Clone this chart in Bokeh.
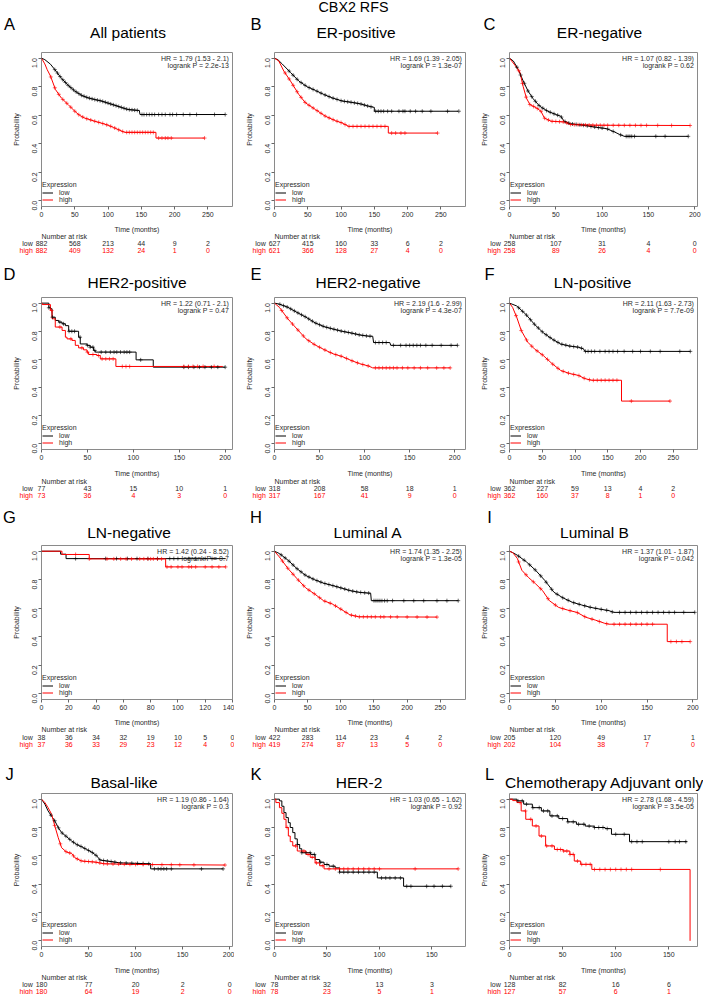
import math
import numpy as np
from bokeh.plotting import figure
from bokeh.models import Range1d, FixedTicker, Legend, LegendItem
from bokeh.core.properties import value
from bokeh.layouts import column, row
from bokeh.embed import file_html
from bokeh.resources import INLINE

FONT = "Liberation Sans"
SMALL = "7px"
RED = "#FF0000"
TXT = "#2a2a2a"

SUPER_TITLE = "CBX2 RFS"
Y_TICKS = [0.0, 0.2, 0.4, 0.6, 0.8, 1.0]
Y_TICK_LABELS = ["0.0", "0.2", "0.4", "0.6", "0.8", "1.0"]

# ---------------- data ----------------
A_TITLE = "All patients"
A_HR = "HR = 1.79 (1.53 - 2.1)"
A_P = "logrank P = 2.2e-13"
A_XMAX = 287
A_TICKS = [0, 50, 100, 150, 200, 250]
A_RISK_LOW = [882, 568, 213, 44, 9, 2]
A_RISK_HIGH = [882, 409, 132, 24, 1, 0]
A_LOW_T = [0, 5, 13.5, 20, 30, 40, 50, 60, 70, 80, 90, 100, 110, 120, 130, 147, 148, 276]
A_LOW_S = [1.0, 0.99, 0.958, 0.92, 0.859, 0.81, 0.77, 0.74, 0.722, 0.71, 0.70, 0.685, 0.67, 0.655, 0.64, 0.633, 0.605, 0.605]
A_HIGH_T = [0, 5, 8.5, 13.5, 21, 30, 40, 50, 57, 65, 80, 90, 100, 108, 115, 125, 172, 172, 245]
A_HIGH_S = [1.0, 0.96, 0.92, 0.875, 0.78, 0.72, 0.675, 0.628, 0.60, 0.58, 0.558, 0.545, 0.53, 0.515, 0.50, 0.48, 0.48, 0.44, 0.44]
A_LOW_CENS = [20, 24, 28, 32, 36, 40, 44, 48, 52, 56, 60, 64, 68, 72, 76, 80, 84, 88, 92, 96, 100, 104, 108, 112, 116, 120, 124, 128, 132, 136, 140, 144, 151, 154, 158, 162, 166, 170, 176, 181, 186, 193, 197, 203, 213, 223, 233, 260, 276]
A_HIGH_CENS = [14, 20, 26, 32, 38, 44, 50, 56, 62, 68, 74, 80, 86, 92, 98, 104, 110, 116, 122, 128, 132, 136, 140, 144, 148, 152, 156, 160, 164, 168, 176, 181, 186, 190, 195, 245]

B_TITLE = "ER-positive"
B_HR = "HR = 1.69 (1.39 - 2.05)"
B_P = "logrank P = 1.3e-07"
B_XMAX = 287
B_TICKS = [0, 50, 100, 150, 200, 250]
B_RISK_LOW = [627, 415, 160, 33, 6, 2]
B_RISK_HIGH = [621, 366, 128, 27, 4, 0]
B_LOW_T = [0, 5, 11.5, 24, 36.5, 49, 61.5, 74, 86.5, 101.5, 116.5, 129, 141.5, 150, 150, 276]
B_LOW_S = [1.0, 0.99, 0.96, 0.90, 0.84, 0.80, 0.774, 0.746, 0.722, 0.70, 0.69, 0.68, 0.663, 0.655, 0.628, 0.628]
B_HIGH_T = [0, 6.5, 14, 24, 36.5, 46.5, 61.5, 76.5, 91.5, 101.5, 111.5, 171, 171, 245]
B_HIGH_S = [1.0, 0.98, 0.91, 0.84, 0.746, 0.687, 0.64, 0.593, 0.562, 0.546, 0.522, 0.522, 0.475, 0.475]
B_LOW_CENS = [22, 28, 34, 40, 46, 52, 58, 64, 70, 76, 82, 88, 94, 100, 105, 110, 115, 120, 125, 130, 135, 140, 145, 152, 156, 160, 164, 170, 176, 187, 193, 196, 204, 212, 222, 235, 260, 277]
B_HIGH_CENS = [16, 22, 28, 34, 40, 46, 52, 58, 64, 70, 76, 82, 88, 94, 100, 106, 112, 118, 124, 130, 136, 142, 148, 154, 160, 166, 176, 182, 190, 196, 245]

C_TITLE = "ER-negative"
C_HR = "HR = 1.07 (0.82 - 1.39)"
C_P = "logrank P = 0.62"
C_XMAX = 203
C_TICKS = [0, 50, 100, 150, 200]
C_RISK_LOW = [258, 107, 31, 4, 0]
C_RISK_HIGH = [258, 89, 26, 4, 0]
C_LOW_T = [0, 4.2, 9.5, 14.8, 20, 25.4, 32.5, 41.3, 50, 55.4, 59, 66, 80, 94, 105, 113.6, 119, 124, 193]
C_LOW_S = [1.0, 0.98, 0.92, 0.84, 0.77, 0.717, 0.664, 0.628, 0.605, 0.593, 0.558, 0.54, 0.53, 0.515, 0.506, 0.482, 0.465, 0.452, 0.452]
C_HIGH_T = [0, 6, 11.3, 14.8, 18.3, 22, 29, 34, 37.7, 44.8, 59, 66, 94, 195]
C_HIGH_S = [1.0, 0.95, 0.90, 0.80, 0.72, 0.675, 0.652, 0.628, 0.58, 0.558, 0.553, 0.535, 0.53, 0.528]
C_LOW_CENS = [8, 12, 16, 20, 24, 28, 32, 36, 40, 44, 48, 52, 56, 60, 64, 68, 72, 76, 80, 84, 88, 92, 96, 100, 106, 112, 120, 126, 128, 130, 132, 135, 158, 168, 193]
C_HIGH_CENS = [10, 14, 18, 22, 26, 30, 34, 38, 42, 46, 50, 54, 58, 62, 66, 70, 74, 78, 82, 86, 90, 94, 98, 102, 106, 112, 118, 124, 130, 136, 142, 148, 160, 175, 195]

D_TITLE = "HER2-positive"
D_HR = "HR = 1.22 (0.71 - 2.1)"
D_P = "logrank P = 0.47"
D_XMAX = 208
D_TICKS = [0, 50, 100, 150, 200]
D_RISK_LOW = [77, 43, 15, 10, 1]
D_RISK_HIGH = [73, 36, 4, 3, 0]
D_LOW_T = [0, 8, 9.7, 11.5, 15, 18.8, 22.4, 26, 29.6, 40.4, 42.2, 49.5, 53, 56.7, 58.5, 103, 121.7, 200]
D_LOW_S = [1.0, 0.967, 0.96, 0.90, 0.877, 0.865, 0.853, 0.84, 0.80, 0.758, 0.71, 0.70, 0.687, 0.664, 0.652, 0.597, 0.545, 0.545]
D_HIGH_T = [0, 0.7, 9.7, 11.5, 15, 22.4, 26, 27.8, 33.2, 36.8, 40.4, 45.8, 49.5, 51.3, 60.3, 64, 81, 197.5]
D_HIGH_S = [1.0, 0.99, 0.948, 0.889, 0.83, 0.806, 0.758, 0.746, 0.735, 0.70, 0.682, 0.668, 0.652, 0.635, 0.628, 0.604, 0.55, 0.55]
D_LOW_CENS = [8, 12, 20, 24, 30, 33, 36, 42, 50, 53, 56, 58, 65, 70, 75, 79, 82, 86, 90, 93, 96, 108, 155, 160, 166, 172, 178, 185, 192, 200]
D_HIGH_CENS = [11, 20, 32, 44, 50, 56, 62, 66, 70, 74, 78, 88, 92, 96, 155, 160, 165, 170, 176, 188]

E_TITLE = "HER2-negative"
E_HR = "HR = 2.19 (1.6 - 2.99)"
E_P = "logrank P = 4.3e-07"
E_XMAX = 212
E_TICKS = [0, 50, 100, 150, 200]
E_RISK_LOW = [318, 208, 58, 18, 1]
E_RISK_HIGH = [317, 167, 41, 9, 0]
E_LOW_T = [0, 5.4, 15, 25, 35, 45, 55, 65, 75, 85, 94.5, 104.5, 109, 110, 128, 129, 203]
E_LOW_S = [1.0, 0.993, 0.97, 0.934, 0.90, 0.86, 0.833, 0.816, 0.80, 0.788, 0.774, 0.765, 0.765, 0.72, 0.72, 0.70, 0.70]
E_HIGH_T = [0, 5.4, 15, 25, 35, 45, 55, 65, 75, 85, 94.5, 104.5, 109, 195]
E_HIGH_S = [1.0, 0.97, 0.887, 0.816, 0.746, 0.703, 0.67, 0.64, 0.621, 0.593, 0.57, 0.553, 0.54, 0.54]
E_LOW_CENS = [6, 10, 14, 18, 22, 26, 30, 34, 38, 42, 46, 50, 54, 58, 62, 66, 70, 74, 78, 82, 86, 90, 94, 98, 102, 106, 112, 116, 120, 124, 132, 140, 146, 150, 154, 158, 162, 168, 175, 185, 196, 203]
E_HIGH_CENS = [8, 14, 20, 26, 32, 38, 44, 50, 56, 62, 68, 74, 80, 86, 92, 98, 104, 112, 116, 120, 124, 128, 132, 136, 142, 148, 155, 162, 170, 180, 188, 195]

F_TITLE = "LN-positive"
F_HR = "HR = 2.11 (1.63 - 2.73)"
F_P = "logrank P = 7.7e-09"
F_XMAX = 287
F_TICKS = [0, 50, 100, 150, 200, 250]
F_RISK_LOW = [362, 227, 59, 13, 4, 2]
F_RISK_HIGH = [362, 160, 37, 8, 1, 0]
F_LOW_T = [0, 11, 25, 38, 51.5, 65, 78, 91.6, 105, 113, 115, 276]
F_LOW_S = [1.0, 0.98, 0.92, 0.85, 0.79, 0.745, 0.71, 0.695, 0.687, 0.675, 0.657, 0.657]
F_HIGH_T = [0, 4.7, 11, 18, 28, 38, 51.5, 65, 78, 91.6, 105, 115, 125, 171, 171, 245]
F_HIGH_S = [1.0, 0.97, 0.90, 0.805, 0.722, 0.675, 0.628, 0.57, 0.522, 0.50, 0.487, 0.464, 0.452, 0.452, 0.304, 0.304]
F_LOW_CENS = [14, 20, 26, 32, 38, 44, 50, 56, 62, 68, 74, 80, 86, 92, 98, 104, 110, 116, 120, 125, 130, 138, 146, 152, 158, 165, 175, 188, 200, 215, 230, 260, 276]
F_HIGH_CENS = [10, 18, 26, 34, 42, 50, 58, 66, 74, 82, 90, 98, 106, 114, 122, 128, 134, 140, 146, 152, 158, 164, 186, 245]

G_TITLE = "LN-negative"
G_HR = "HR = 1.42 (0.24 - 8.52)"
G_P = "logrank P = 0.7"
G_XMAX = 140
G_TICKS = [0, 20, 40, 60, 80, 100, 120, 140]
G_RISK_LOW = [38, 36, 34, 32, 19, 10, 5, 0]
G_RISK_HIGH = [37, 36, 33, 29, 23, 12, 4, 0]
G_LOW_T = [0, 14, 18, 135]
G_LOW_S = [1.0, 0.979, 0.948, 0.948]
G_HIGH_T = [0, 15, 35, 91, 135]
G_HIGH_S = [1.0, 0.977, 0.946, 0.89, 0.89]
G_LOW_CENS = [25, 47, 55, 63, 70, 78, 85, 94, 97, 100, 108, 113, 120, 125]
G_HIGH_CENS = [25, 35, 48, 53, 58, 62, 66, 72, 75, 78, 80, 82, 85, 88, 92, 95, 100, 103, 108, 110, 113, 120, 125, 130, 135]

H_TITLE = "Luminal A"
H_HR = "HR = 1.74 (1.35 - 2.25)"
H_P = "logrank P = 1.3e-05"
H_XMAX = 288
H_TICKS = [0, 50, 100, 150, 200, 250]
H_RISK_LOW = [422, 283, 114, 23, 4, 2]
H_RISK_HIGH = [419, 274, 87, 13, 5, 0]
H_LOW_T = [0, 7.3, 20.6, 34, 47, 60.5, 74, 87, 100, 113.7, 127, 145, 146, 277]
H_LOW_S = [1.0, 0.984, 0.936, 0.877, 0.83, 0.80, 0.776, 0.76, 0.743, 0.724, 0.712, 0.705, 0.653, 0.653]
H_HIGH_T = [0, 7.3, 20.6, 34, 47, 60.5, 74, 87, 100, 113.7, 127, 245]
H_HIGH_S = [1.0, 0.96, 0.877, 0.807, 0.743, 0.70, 0.653, 0.63, 0.594, 0.554, 0.54, 0.538]
H_LOW_CENS = [10, 16, 22, 28, 34, 40, 46, 52, 58, 64, 70, 76, 82, 88, 94, 100, 106, 112, 118, 124, 130, 136, 142, 150, 153, 156, 159, 162, 166, 170, 178, 195, 210, 225, 245, 260, 277]
H_HIGH_CENS = [12, 20, 28, 36, 44, 52, 60, 68, 76, 84, 92, 100, 108, 116, 122, 128, 134, 140, 146, 152, 160, 165, 175, 185, 200, 215, 230, 245]

I_TITLE = "Luminal B"
I_HR = "HR = 1.37 (1.01 - 1.87)"
I_P = "logrank P = 0.042"
I_XMAX = 205
I_TICKS = [0, 50, 100, 150, 200]
I_RISK_LOW = [205, 120, 49, 17, 1]
I_RISK_HIGH = [202, 104, 38, 7, 0]
I_LOW_T = [0, 3.5, 8.5, 18.5, 28.5, 38.5, 48.5, 58.5, 68.5, 78.5, 88.5, 98.5, 108.5, 113.5, 202]
I_LOW_S = [1.0, 0.99, 0.972, 0.925, 0.866, 0.795, 0.712, 0.672, 0.642, 0.623, 0.606, 0.594, 0.583, 0.571, 0.571]
I_HIGH_T = [0, 3.5, 8.5, 13.5, 21, 28.5, 36, 43.5, 53.5, 63.5, 73.5, 83.5, 93.5, 103.5, 108.5, 172, 172, 197]
I_HIGH_S = [1.0, 0.99, 0.95, 0.866, 0.814, 0.771, 0.724, 0.653, 0.606, 0.587, 0.571, 0.536, 0.517, 0.495, 0.488, 0.488, 0.366, 0.366]
I_LOW_CENS = [10, 16, 22, 28, 34, 40, 46, 52, 58, 64, 70, 76, 82, 88, 94, 100, 106, 112, 120, 126, 132, 138, 144, 150, 156, 162, 168, 174, 180, 190, 202]
I_HIGH_CENS = [10, 18, 26, 34, 42, 50, 58, 66, 74, 82, 90, 98, 106, 114, 120, 126, 132, 138, 144, 150, 156, 176, 182, 188, 197]

J_TITLE = "Basal-like"
J_HR = "HR = 1.19 (0.86 - 1.64)"
J_P = "logrank P = 0.3"
J_XMAX = 203
J_TICKS = [0, 50, 100, 150, 200]
J_RISK_LOW = [180, 77, 20, 2, 0]
J_RISK_HIGH = [180, 64, 19, 2, 0]
J_LOW_T = [0, 3.6, 7, 10.7, 14.2, 17.8, 21.4, 26.7, 32, 37.4, 42.7, 48, 53.4, 58.7, 62.3, 70, 84, 116, 116, 193]
J_LOW_S = [1.0, 0.965, 0.917, 0.88, 0.846, 0.80, 0.764, 0.735, 0.705, 0.68, 0.664, 0.645, 0.626, 0.60, 0.57, 0.563, 0.55, 0.544, 0.508, 0.508]
J_HIGH_T = [0, 3.6, 7, 10.7, 14.2, 17.8, 21.4, 26.7, 32, 35.6, 42.7, 57, 66.5, 98.6, 195]
J_HIGH_S = [1.0, 0.976, 0.94, 0.894, 0.81, 0.728, 0.657, 0.626, 0.617, 0.586, 0.563, 0.556, 0.544, 0.539, 0.535]
J_LOW_CENS = [10, 14, 18, 22, 26, 30, 34, 38, 42, 46, 50, 54, 58, 62, 66, 70, 74, 78, 84, 90, 96, 102, 108, 114, 120, 124, 127, 130, 133, 138, 170, 193]
J_HIGH_CENS = [14, 20, 26, 30, 34, 38, 42, 46, 50, 54, 58, 62, 66, 70, 76, 82, 88, 94, 100, 108, 118, 128, 138, 147, 162, 195]

K_TITLE = "HER-2"
K_HR = "HR = 1.03 (0.65 - 1.62)"
K_P = "logrank P = 0.92"
K_XMAX = 182
K_TICKS = [0, 50, 100, 150]
K_RISK_LOW = [78, 32, 13, 3]
K_RISK_HIGH = [78, 23, 5, 1]
K_LOW_T = [0, 4.7, 7, 9, 11, 13.2, 15, 17.4, 19.5, 21.7, 24, 26, 34.4, 38.7, 43, 47.2, 52, 57.8, 62, 98, 123, 168]
K_LOW_S = [1.0, 0.988, 0.95, 0.905, 0.87, 0.834, 0.80, 0.764, 0.72, 0.68, 0.65, 0.622, 0.61, 0.574, 0.555, 0.539, 0.527, 0.515, 0.485, 0.444, 0.385, 0.385]
K_HIGH_T = [0, 1.3, 4.7, 7, 9, 11, 13.2, 15, 17.4, 21.7, 30, 34, 38.7, 43, 47.2, 175]
K_HIGH_S = [1.0, 0.976, 0.94, 0.90, 0.858, 0.80, 0.74, 0.70, 0.67, 0.634, 0.61, 0.59, 0.55, 0.53, 0.508, 0.508]
K_LOW_CENS = [22, 26, 30, 34, 38, 44, 50, 56, 62, 66, 70, 75, 80, 85, 90, 95, 102, 106, 110, 115, 120, 126, 130, 145, 152, 160, 168]
K_HIGH_CENS = [12, 20, 28, 32, 36, 40, 46, 52, 58, 62, 66, 70, 75, 80, 85, 90, 95, 100, 134, 175]

L_TITLE = "Chemotherapy Adjuvant only"
L_HR = "HR = 2.78 (1.68 - 4.59)"
L_P = "logrank P = 3.5e-05"
L_XMAX = 177
L_TICKS = [0, 50, 100, 150]
L_RISK_LOW = [128, 82, 16, 6]
L_RISK_HIGH = [127, 57, 6, 1]
L_LOW_T = [0, 7, 13.3, 21.5, 30, 38, 46.4, 54.7, 63, 71.3, 79.6, 90, 96, 113, 167]
L_LOW_S = [1.0, 0.988, 0.965, 0.94, 0.917, 0.882, 0.863, 0.84, 0.823, 0.81, 0.80, 0.792, 0.752, 0.70, 0.70]
L_HIGH_T = [0, 3, 7, 11, 15.3, 21.5, 27.8, 34, 42.3, 50.5, 56.8, 61, 67, 77.5, 170, 170]
L_HIGH_S = [1.0, 0.99, 0.976, 0.917, 0.858, 0.811, 0.74, 0.67, 0.645, 0.634, 0.61, 0.563, 0.54, 0.504, 0.504, 0.0]
L_LOW_CENS = [8, 12, 16, 22, 28, 32, 36, 40, 45, 50, 55, 60, 65, 70, 75, 80, 84, 88, 92, 100, 108, 115, 120, 125, 150, 156, 160, 166]
L_HIGH_CENS = [10, 15, 20, 25, 30, 35, 40, 45, 48, 51, 54, 57, 60, 64, 68, 72, 76, 80, 85, 90, 95, 100, 105, 110, 115, 142]

# ---------------- layout (pixels) ----------------
COL_W = [234, 235, 234]
COL_LEFT = [41, 40, 40]
COL_FW = [191, 191, 188]
COL_LETTER_X = [9, 21.5, 20]
ROW_H = [256, 246, 247, 245]
ROW_TOP = [52, 41, 43, 44]
ROW_FH = [154, 152, 154, 153]
ROW_LETTER_Y = [23, 17.3, 14.7, 24]
ROW_TITLE_Y = [31.7, 26.3, 29.7, 32.7]
# offsets below the frame bottom: axis label, "Number at risk", low row, high row
ROW_BELOW_DY = [(23.0, 29.7, 37.3, 44.0), (24.3, 32.0, 39.3, 46.0), (23.0, 30.3, 37.7, 45.0), (24.0, 30.7, 38.3, 45.0)]
MAIN_BOTTOM = 16
MAIN_TOP = 2

PANELS = [
    ("A", A_TITLE, A_HR, A_P, A_XMAX, A_TICKS, A_RISK_LOW, A_RISK_HIGH, A_LOW_T, A_LOW_S, A_HIGH_T, A_HIGH_S, A_LOW_CENS, A_HIGH_CENS, False, -9),
    ("B", B_TITLE, B_HR, B_P, B_XMAX, B_TICKS, B_RISK_LOW, B_RISK_HIGH, B_LOW_T, B_LOW_S, B_HIGH_T, B_HIGH_S, B_LOW_CENS, B_HIGH_CENS, False, -14),
    ("C", C_TITLE, C_HR, C_P, C_XMAX, C_TICKS, C_RISK_LOW, C_RISK_HIGH, C_LOW_T, C_LOW_S, C_HIGH_T, C_HIGH_S, C_LOW_CENS, C_HIGH_CENS, False, -4),
    ("D", D_TITLE, D_HR, D_P, D_XMAX, D_TICKS, D_RISK_LOW, D_RISK_HIGH, D_LOW_T, D_LOW_S, D_HIGH_T, D_HIGH_S, D_LOW_CENS, D_HIGH_CENS, True, 0),
    ("E", E_TITLE, E_HR, E_P, E_XMAX, E_TICKS, E_RISK_LOW, E_RISK_HIGH, E_LOW_T, E_LOW_S, E_HIGH_T, E_HIGH_S, E_LOW_CENS, E_HIGH_CENS, False, -2),
    ("F", F_TITLE, F_HR, F_P, F_XMAX, F_TICKS, F_RISK_LOW, F_RISK_HIGH, F_LOW_T, F_LOW_S, F_HIGH_T, F_HIGH_S, F_LOW_CENS, F_HIGH_CENS, False, -11),
    ("G", G_TITLE, G_HR, G_P, G_XMAX, G_TICKS, G_RISK_LOW, G_RISK_HIGH, G_LOW_T, G_LOW_S, G_HIGH_T, G_HIGH_S, G_LOW_CENS, G_HIGH_CENS, True, -8),
    ("H", H_TITLE, H_HR, H_P, H_XMAX, H_TICKS, H_RISK_LOW, H_RISK_HIGH, H_LOW_T, H_LOW_S, H_HIGH_T, H_HIGH_S, H_LOW_CENS, H_HIGH_CENS, False, -2),
    ("I", I_TITLE, I_HR, I_P, I_XMAX, I_TICKS, I_RISK_LOW, I_RISK_HIGH, I_LOW_T, I_LOW_S, I_HIGH_T, I_HIGH_S, I_LOW_CENS, I_HIGH_CENS, False, -9),
    ("J", J_TITLE, J_HR, J_P, J_XMAX, J_TICKS, J_RISK_LOW, J_RISK_HIGH, J_LOW_T, J_LOW_S, J_HIGH_T, J_HIGH_S, J_LOW_CENS, J_HIGH_CENS, False, -13),
    ("K", K_TITLE, K_HR, K_P, K_XMAX, K_TICKS, K_RISK_LOW, K_RISK_HIGH, K_LOW_T, K_LOW_S, K_HIGH_T, K_HIGH_S, K_LOW_CENS, K_HIGH_CENS, True, -11),
    ("L", L_TITLE, L_HR, L_P, L_XMAX, L_TICKS, L_RISK_LOW, L_RISK_HIGH, L_LOW_T, L_LOW_S, L_HIGH_T, L_HIGH_S, L_LOW_CENS, L_HIGH_CENS, True, 1),
]


def curve_at(t, s, c, step):
    t = np.asarray(t, float)
    s = np.asarray(s, float)
    c = np.asarray(c, float)
    if step:
        idx = np.clip(np.searchsorted(t, c, side="right") - 1, 0, len(s) - 1)
        return s[idx]
    return np.interp(c, t, s)


def blank_fig(w, h, xr, yr):
    f = figure(width=w, height=h, x_range=xr, y_range=yr, output_backend="svg", title=None,
               toolbar_location=None, tools="", x_axis_location=None, y_axis_location=None,
               min_border=0, min_border_left=0, min_border_right=0, min_border_top=0,
               min_border_bottom=0, frame_align=False)
    f.grid.visible = False
    f.outline_line_color = None
    f.background_fill_color = "white"
    f.border_fill_color = "white"
    return f


def put_text(f, xs, ys, texts, align="left", size=SMALL, color=TXT):
    f.text(x=xs, y=ys, text=texts, text_align=align, text_baseline="middle",
           text_font=value(FONT), text_font_size=size, text_color=color)


def make_panel(i, cfg):
    (letter, title, hr, pv, xmax, ticks, rlow, rhigh, lt, ls, ht, hs, lc, hc, step, tshift) = cfg
    col, rw = i % 3, i // 3
    W = COL_W[col]
    lb, fw = COL_LEFT[col], COL_FW[col]
    rb = W - lb - fw
    tb, fh = ROW_TOP[rw], ROW_FH[rw]

    # ---- header: letter + title (pixel coordinates) ----
    hh = tb - MAIN_TOP
    head = blank_fig(W, hh, Range1d(0, W), Range1d(hh, 0))
    put_text(head, [COL_LETTER_X[col]], [ROW_LETTER_Y[rw]], [letter], align="center", size="16.5px", color="black")
    put_text(head, [lb + fw / 2 + tshift], [ROW_TITLE_Y[rw]], [title], align="center", size="15.5px", color="black")
    if i == 1:
        put_text(head, [119], [6.7], [SUPER_TITLE], align="center", size="14.3px", color="black")

    # ---- main KM plot ----
    p = figure(width=W, height=MAIN_TOP + fh + MAIN_BOTTOM, x_range=Range1d(0, xmax),
               y_range=Range1d(-0.04, 1.04), output_backend="svg", toolbar_location=None, tools="",
               title=None, min_border_left=lb, min_border_right=rb, min_border_top=MAIN_TOP,
               min_border_bottom=MAIN_BOTTOM, frame_align=False)
    p.background_fill_color = "white"
    p.border_fill_color = "white"
    p.grid.visible = False
    p.outline_line_color = "#8a8a8a"
    p.outline_line_width = 1

    p.xaxis.ticker = FixedTicker(ticks=ticks)
    p.yaxis.ticker = FixedTicker(ticks=Y_TICKS)
    p.yaxis.major_label_overrides = dict(zip(Y_TICKS, Y_TICK_LABELS))
    p.yaxis.axis_label = "Probability"
    p.yaxis.major_label_orientation = math.pi / 2
    for ax in (p.xaxis[0], p.yaxis[0]):
        ax.axis_line_color = None
        ax.major_tick_in = 0
        ax.major_tick_out = 3
        ax.major_tick_line_color = "#666666"
        ax.minor_tick_line_color = None
        ax.major_label_text_font = FONT
        ax.major_label_text_font_size = SMALL
        ax.major_label_text_color = TXT
        ax.major_label_standoff = 2
        ax.axis_label_text_font = FONT
        ax.axis_label_text_font_size = SMALL
        ax.axis_label_text_font_style = "normal"
        ax.axis_label_text_color = TXT
    p.yaxis.major_label_standoff = 4
    p.yaxis.axis_label_standoff = 7

    if step:
        lr = p.step(lt, ls, mode="after", line_color="black", line_width=1)
        hr_r = p.step(ht, hs, mode="after", line_color=RED, line_width=1)
    else:
        lr = p.line(lt, ls, line_color="black", line_width=1)
        hr_r = p.line(ht, hs, line_color=RED, line_width=1)
    p.scatter(lc, curve_at(lt, ls, lc, step), marker="cross", size=4, line_color="black", line_width=0.6)
    p.scatter(hc, curve_at(ht, hs, hc, step), marker="cross", size=4, line_color=RED, line_width=0.6)

    legend = Legend(items=[LegendItem(label="low", renderers=[lr]), LegendItem(label="high", renderers=[hr_r])],
                    title="Expression", location=(1, 3), padding=2, margin=0, spacing=0,
                    glyph_width=11, glyph_height=7, label_height=7, label_standoff=6,
                    title_standoff=1, border_line_color=None, background_fill_alpha=0,
                    label_text_font=FONT, label_text_font_size=SMALL, label_text_color=TXT,
                    title_text_font=FONT, title_text_font_size=SMALL, title_text_font_style="normal",
                    title_text_color=TXT)
    p.add_layout(legend)

    # HR / logrank text in the top-right corner of the frame
    ppu_x = fw / xmax
    ppu_y = fh / 1.08
    p.text(x=[xmax - 3.6 / ppu_x] * 2, y=[1.04 - 6.0 / ppu_y, 1.04 - 13.0 / ppu_y], text=[hr, pv],
           text_align="right", text_baseline="middle", text_font=value(FONT),
           text_font_size=SMALL, text_color=TXT)

    # ---- risk table (x in data units, y in pixels below the main figure) ----
    d_time, d_nar, d_low, d_high = [d - MAIN_BOTTOM for d in ROW_BELOW_DY[rw]]
    rh = ROW_H[rw] - tb - fh - MAIN_BOTTOM
    risk = blank_fig(W, rh, Range1d(-lb / ppu_x, (W - lb) / ppu_x), Range1d(rh, 0))
    put_text(risk, [xmax / 2], [d_time], ["Time (months)"], align="center")
    put_text(risk, [0], [d_nar], ["Number at risk"])
    put_text(risk, [-8.7 / ppu_x], [d_low], ["low"], align="right")
    put_text(risk, [-8.7 / ppu_x], [d_high], ["high"], align="right", color=RED)
    put_text(risk, ticks, [d_low] * len(ticks), [str(n) for n in rlow], align="center")
    put_text(risk, ticks, [d_high] * len(ticks), [str(n) for n in rhigh], align="center", color=RED)

    return column(head, p, risk, spacing=0)


panels = [make_panel(i, cfg) for i, cfg in enumerate(PANELS)]
layout = column(*[row(*panels[r * 3:(r + 1) * 3], spacing=0) for r in range(4)], spacing=0)

open("out.html", "w").write(file_html(layout, INLINE, title="CBX2 RFS"))
